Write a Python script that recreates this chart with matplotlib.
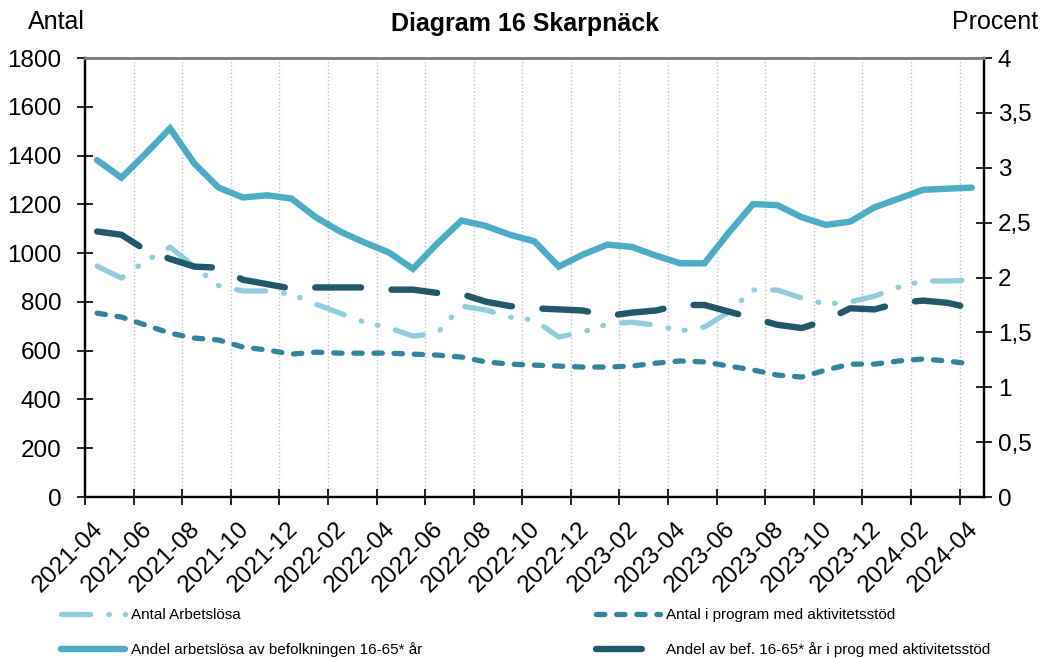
import matplotlib
matplotlib.use('Agg')
import matplotlib.pyplot as plt
import matplotlib.transforms as mtransforms
import pandas as pd

plt.rcParams['font.family'] = ['Liberation Sans', 'DejaVu Sans']
plt.rcParams['lines.scale_dashes'] = False

# månader 2021-04 .. 2024-04
manader = [p.strftime('%Y-%m') for p in pd.period_range('2021-04', '2024-04', freq='M')]

antal_arbetslosa = [947, 898, 968, 1025, 945, 867, 845, 845, 832, 791, 754, 717,
                    695, 660, 672, 783, 767, 738, 726, 656, 677, 709, 717, 705,
                    681, 697, 759, 849, 849, 816, 791, 800, 824, 861, 886, 886, 890]
antal_program = [754, 738, 705, 672, 652, 644, 615, 603, 586, 594, 590, 590,
                 590, 586, 582, 574, 554, 545, 541, 537, 533, 533, 537, 549,
                 558, 554, 537, 521, 500, 492, 521, 545, 545, 558, 566, 558, 545]
andel_arbetslosa = [3.07, 2.91, 3.13, 3.36, 3.04, 2.82, 2.73, 2.75, 2.72, 2.55, 2.42, 2.32,
                    2.23, 2.08, 2.31, 2.52, 2.47, 2.39, 2.33, 2.10, 2.21, 2.30, 2.28, 2.20,
                    2.13, 2.13, 2.41, 2.67, 2.66, 2.55, 2.48, 2.51, 2.64, 2.72, 2.80, 2.81, 2.82]
andel_program = [2.42, 2.39, 2.25, 2.17, 2.10, 2.09, 1.98, 1.94, 1.90, 1.91, 1.91, 1.91,
                 1.89, 1.89, 1.86, 1.85, 1.78, 1.74, 1.72, 1.71, 1.70, 1.65, 1.68, 1.70,
                 1.75, 1.75, 1.69, 1.63, 1.57, 1.54, 1.61, 1.72, 1.71, 1.77, 1.79, 1.77, 1.72]

x = list(range(len(manader)))

fig = plt.figure(figsize=(10.44, 6.59), dpi=100)
ax = fig.add_axes([0.0814, 0.2458, 0.861, 0.666])
ax2 = ax.twinx()

l1, = ax.plot(x, antal_arbetslosa, color='#92CDDC', lw=3.8,
              linestyle=(0, (21, 13, 0.5, 11.5, 0.5, 13)),
              dash_capstyle='round', solid_capstyle='round')
l2, = ax.plot(x, antal_program, color='#31859C', lw=3.8,
              linestyle=(0, (6, 8.5)), dash_capstyle='round')
l3, = ax2.plot(x, andel_arbetslosa, color='#4BACC6', lw=4.6,
               solid_capstyle='round', solid_joinstyle='miter')
l4, = ax2.plot(x, andel_program, color='#215968', lw=4.6,
               linestyle=(0, (33, 22)), dash_capstyle='round')

ax.set_xlim(-0.5, len(x) - 0.5)
ax.set_ylim(0, 1800)
ax.set_yticks(range(0, 1801, 200))
ax2.set_ylim(0, 4)
ax2.set_yticks([i * 0.5 for i in range(9)])
ax2.set_yticklabels(['0', '0,5', '1', '1,5', '2', '2,5', '3', '3,5', '4'])

# tickmarks mellan kategorierna, etiketter på varannan månad
ax.set_xticks([i + 1.5 for i in range(-2, len(x) - 1, 2)])
ax.set_xticklabels([])
ax.set_xticks(x[::2], minor=True)
ax.set_xticklabels(manader[::2], minor=True, rotation=45, ha='right',
                   va='top', rotation_mode='anchor', fontsize=17.5)
ax.tick_params(axis='x', which='minor', length=0, pad=15)
ax.tick_params(axis='x', which='major', direction='inout', length=12, width=1.2)
ax.tick_params(axis='y', direction='inout', length=12, width=1.2, labelsize=17.5, pad=11)
ax2.tick_params(axis='y', direction='inout', length=12, width=1.2, labelsize=17.5, pad=4)

# flytta datumetiketterna lite åt vänster
forskjut = mtransforms.ScaledTranslation(-5 / 100, 0, fig.dpi_scale_trans)
for lbl in ax.get_xticklabels(minor=True):
    lbl.set_transform(lbl.get_transform() + forskjut)

ax.grid(axis='x', which='major', color='#BFBFBF', linestyle=':', lw=1)
ax.set_axisbelow(True)

for a in (ax, ax2):
    a.spines['top'].set_color('#808080')
    a.spines['top'].set_linewidth(2)
    a.spines['left'].set_linewidth(1.6)
    a.spines['right'].set_linewidth(1.6)
    a.spines['bottom'].set_linewidth(1.6)

fig.text(0.503, 0.964, 'Diagram 16 Skarpnäck', ha='center', va='center',
         fontsize=18, fontweight='bold')
fig.text(0.054, 0.966, 'Antal', ha='center', va='center', fontsize=18)
fig.text(0.953, 0.966, 'Procent', ha='center', va='center', fontsize=18)

fig.legend([l1, l3, l2, l4],
           ['Antal Arbetslösa', 'Andel arbetslösa av befolkningen 16-65* år',
            'Antal i program med aktivitetsstöd', 'Andel av bef. 16-65* år i prog med aktivitetsstöd'],
           loc='lower left', bbox_to_anchor=(0.045, -0.018), ncol=2, frameon=False,
           fontsize=11, handlelength=4.2, columnspacing=11.35, labelspacing=1.3,
           handletextpad=0.4)

fig.savefig('out.png', dpi=100)
